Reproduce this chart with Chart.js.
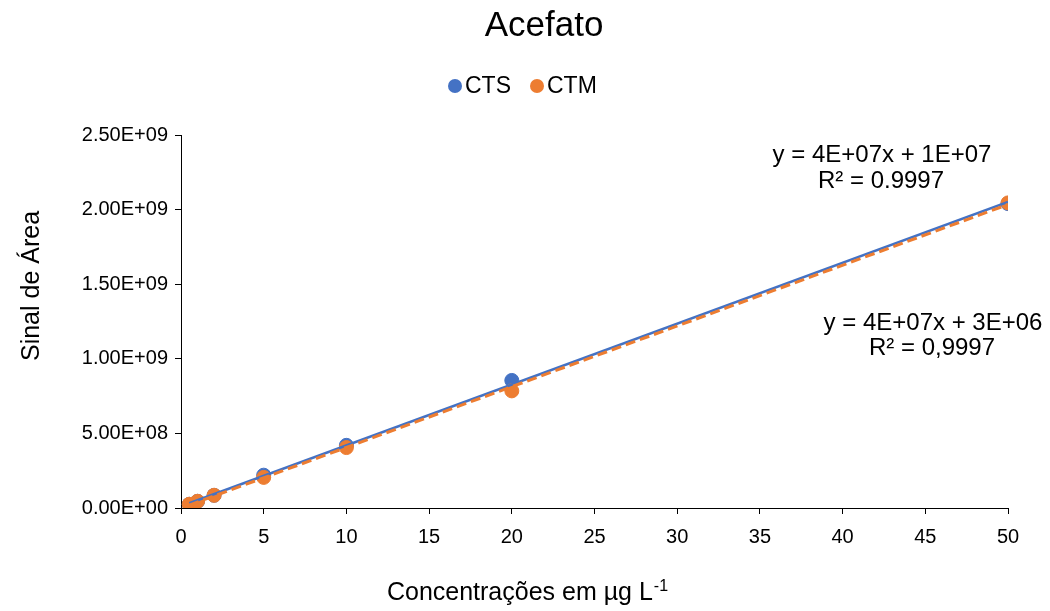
<!DOCTYPE html>
<html><head><meta charset="utf-8">
<script src="https://cdn.jsdelivr.net/npm/chart.js@4/dist/chart.umd.min.js"></script>
<style>html,body{margin:0;padding:0;background:#fff}</style>
</head><body>
<canvas id="c" width="1050" height="611"></canvas>
<script>
// ---- data ----
const concentrations = [0.5, 1, 2, 5, 10, 20, 50];
const ctsValues = [2.5e7, 4.5e7, 8.5e7, 2.2e8, 4.2e8, 8.55e8, 2.04e9];
const ctmValues = [2.5e7, 4.5e7, 8.5e7, 2.05e8, 4.05e8, 7.85e8, 2.045e9];
const seriesNames = ['CTS', 'CTM'];
const xTickValues = [0, 5, 10, 15, 20, 25, 30, 35, 40, 45, 50];
const yTickValues = [0, 5e8, 1e9, 1.5e9, 2e9, 2.5e9];
const trendLabelsCTS = ['y = 4E+07x + 1E+07', 'R² = 0.9997'];
const trendLabelsCTM = ['y = 4E+07x + 3E+06', 'R² = 0,9997'];
const chartTitle = 'Acefato';
const xTitle = 'Concentrações em µg L';
const xTitleSup = '-1';
const yTitle = 'Sinal de Área';

const BLUE = '#4472C4', ORANGE = '#ED7D31';
const FONT = "'Liberation Sans', Arial, sans-serif";

function linReg(xs, ys) {
  const n = xs.length;
  const mx = xs.reduce((a, b) => a + b, 0) / n;
  const my = ys.reduce((a, b) => a + b, 0) / n;
  let sxy = 0, sxx = 0;
  for (let i = 0; i < n; i++) { sxy += (xs[i] - mx) * (ys[i] - my); sxx += (xs[i] - mx) ** 2; }
  const m = sxy / sxx; return { m, b: my - m * mx };
}
function trendPoints(xs, ys) {
  const r = linReg(xs, ys);
  const x0 = Math.min(...xs), x1 = Math.max(...xs);
  return [{ x: x0, y: r.m * x0 + r.b }, { x: x1, y: r.m * x1 + r.b }];
}
function fmtE(v) {
  if (v === 0) return '0.00E+00';
  const e = Math.floor(Math.log10(v) + 1e-9);
  const m = v / Math.pow(10, e);
  return m.toFixed(2) + 'E' + (e >= 0 ? '+' : '-') + String(Math.abs(e)).padStart(2, '0');
}
const pts = (xs, ys) => xs.map((x, i) => ({ x, y: ys[i] }));

const decor = {
  id: 'decor',
  afterDraw(chart) {
    const ctx = chart.ctx;
    ctx.save();
    ctx.fillStyle = '#000';
    // title
    ctx.font = '35px ' + FONT;
    ctx.textAlign = 'center'; ctx.textBaseline = 'middle';
    ctx.fillText(chartTitle, 544, 26);
    // legend
    ctx.font = '23px ' + FONT;
    ctx.textAlign = 'left';
    const leg = [[455, BLUE, seriesNames[0]], [537, ORANGE, seriesNames[1]]];
    for (const [x, col, name] of leg) {
      ctx.fillStyle = col;
      ctx.beginPath(); ctx.arc(x, 86, 7, 0, Math.PI * 2); ctx.fill();
      ctx.fillStyle = '#000';
      ctx.fillText(name, x + 10, 87);
    }
    // y title
    ctx.font = '25px ' + FONT;
    ctx.save();
    ctx.translate(32, 286); ctx.rotate(-Math.PI / 2);
    ctx.textAlign = 'center';
    ctx.fillText(yTitle, 0, 0);
    ctx.restore();
    // x title with superscript
    ctx.textAlign = 'left'; ctx.textBaseline = 'alphabetic';
    ctx.font = '25px ' + FONT;
    const w1 = ctx.measureText(xTitle).width;
    ctx.font = '16px ' + FONT;
    const w2 = ctx.measureText(xTitleSup).width;
    const startX = 527 - (w1 + w2) / 2;
    ctx.font = '25px ' + FONT;
    ctx.fillText(xTitle, startX, 600);
    ctx.font = '16px ' + FONT;
    ctx.fillText(xTitleSup, startX + w1 + 1, 591);
    // trendline labels
    ctx.font = '24px ' + FONT;
    ctx.textAlign = 'center'; ctx.textBaseline = 'middle';
    ctx.fillText(trendLabelsCTS[0], 882, 155);
    ctx.fillText(trendLabelsCTS[1], 881, 181);
    ctx.fillText(trendLabelsCTM[0], 933, 323);
    ctx.fillText(trendLabelsCTM[1], 932, 348);
    ctx.restore();
  }
};

new Chart(document.getElementById('c'), {
  type: 'scatter',
  data: {
    datasets: [
      { label: 'CTM trend', data: trendPoints(concentrations, ctmValues), type: 'line', borderColor: ORANGE, borderWidth: 3, borderDash: [10, 5], pointRadius: 0, fill: false, order: 0 },
      { label: 'CTS trend', data: trendPoints(concentrations, ctsValues), type: 'line', borderColor: BLUE, borderWidth: 2.5, pointRadius: 0, fill: false, order: 1 },
      { label: seriesNames[1], data: pts(concentrations, ctmValues), backgroundColor: ORANGE, borderColor: ORANGE, pointRadius: 7, order: 2 },
      { label: seriesNames[0], data: pts(concentrations, ctsValues), backgroundColor: BLUE, borderColor: BLUE, pointRadius: 7, order: 3 }
    ]
  },
  options: {
    responsive: false,
    animation: false,
    layout: { padding: { top: 135, right: 42, bottom: 0, left: 0 } },
    plugins: { legend: { display: false }, title: { display: false }, tooltip: { enabled: false } },
    scales: {
      x: {
        type: 'linear', min: 0, max: 50,
        afterBuildTicks: s => { s.ticks = xTickValues.map(v => ({ value: v })); },
        afterFit: s => { s.height = 103; },
        grid: { drawOnChartArea: false, drawTicks: true, tickLength: 6, color: '#000' },
        border: { color: '#000', width: 1 },
        ticks: { color: '#000', font: { size: 20, family: FONT }, padding: 11, maxRotation: 0 }
      },
      y: {
        type: 'linear', min: 0, max: 2.5e9,
        afterBuildTicks: s => { s.ticks = yTickValues.map(v => ({ value: v })); },
        afterFit: s => { s.width = 181; },
        grid: { drawOnChartArea: false, drawTicks: true, tickLength: 6, color: '#000' },
        border: { color: '#000', width: 1 },
        ticks: { color: '#000', font: { size: 20, family: FONT }, padding: 7, callback: v => fmtE(v) }
      }
    }
  },
  plugins: [decor]
});
</script>
</body></html>
